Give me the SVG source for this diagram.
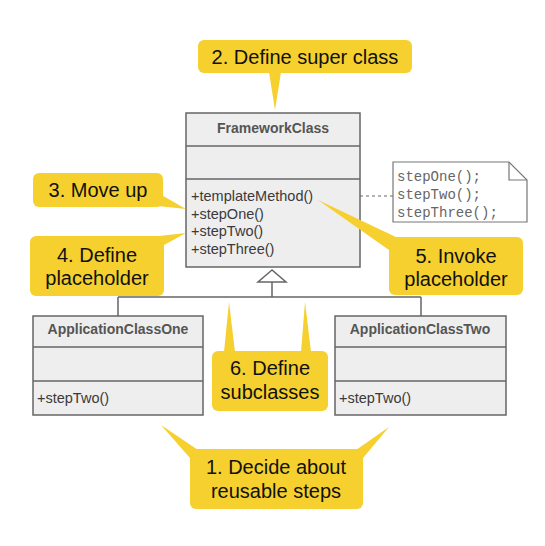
<svg xmlns="http://www.w3.org/2000/svg" width="545" height="546" viewBox="0 0 545 546">
<style>
.cls{fill:#eeeeee;stroke:#666;stroke-width:1.5}
.sep{stroke:#666;stroke-width:1.5}
.title{font-family:"Liberation Sans",Arial,sans-serif;font-weight:bold;font-size:14px;fill:#555;text-anchor:middle}
.meth{font-family:"Liberation Sans",Arial,sans-serif;font-size:14.5px;fill:#3a3a3a}
.note{font-family:"Liberation Mono","Courier New",monospace;font-size:14px;fill:#666}
.call{fill:#f5d02e}
.ct{font-family:"Liberation Sans",Arial,sans-serif;font-size:20px;fill:#111;text-anchor:middle}
.conn{stroke:#666;stroke-width:1.5;fill:none}
</style>
<rect width="545" height="546" fill="#ffffff"/>
<g id="connectors">
<polygon points="272,270 258,282 286,282" fill="#ffffff" stroke="#666" stroke-width="1.5"/>
<path class="conn" d="M272,282 V297 M118,297 H421 M118,297 V316 M421,297 V316"/>
<path d="M360,196 H393" stroke="#666" stroke-width="1.2" stroke-dasharray="3,3" fill="none"/>
</g>
<g id="FrameworkClass">
<rect class="cls" x="186" y="113" width="174" height="154"/>
<line class="sep" x1="186" y1="146" x2="360" y2="146"/>
<line class="sep" x1="186" y1="179" x2="360" y2="179"/>
<text class="title" x="273" y="133">FrameworkClass</text>
<text class="meth" x="191" y="201">+templateMethod()</text>
<text class="meth" x="191" y="219">+stepOne()</text>
<text class="meth" x="191" y="236">+stepTwo()</text>
<text class="meth" x="191" y="254">+stepThree()</text>
</g>
<g id="note">
<path d="M393,162 H509 L527,180 V222 H393 Z" fill="#ffffff" stroke="#777" stroke-width="1.2"/>
<path d="M509,162 V180 H527" fill="none" stroke="#777" stroke-width="1.2"/>
<text class="note" x="397" y="181">stepOne();</text>
<text class="note" x="397" y="199">stepTwo();</text>
<text class="note" x="397" y="217">stepThree();</text>
</g>
<g id="ApplicationClassOne">
<rect class="cls" x="33" y="316" width="170" height="99"/>
<line class="sep" x1="33" y1="347" x2="203" y2="347"/>
<line class="sep" x1="33" y1="381" x2="203" y2="381"/>
<text class="title" x="118" y="334">ApplicationClassOne</text>
<text class="meth" x="37" y="403">+stepTwo()</text>
</g>
<g id="ApplicationClassTwo">
<rect class="cls" x="335" y="316" width="171" height="99"/>
<line class="sep" x1="335" y1="347" x2="506" y2="347"/>
<line class="sep" x1="335" y1="381" x2="506" y2="381"/>
<text class="title" x="420" y="334">ApplicationClassTwo</text>
<text class="meth" x="339" y="403">+stepTwo()</text>
</g>
<g id="callout2">
<rect class="call" x="198" y="40" width="214" height="33" rx="6"/>
<polygon class="call" points="269,72 281,72 275,110"/>
<text class="ct" x="305" y="64">2. Define super class</text>
</g>
<g id="callout3">
<rect class="call" x="33" y="173" width="130" height="34" rx="6"/>
<polygon class="call" points="158,193 186,209 158,206"/>
<text class="ct" x="98" y="197">3. Move up</text>
</g>
<g id="callout4">
<rect class="call" x="30" y="236" width="134" height="60" rx="6"/>
<polygon class="call" points="150,237 186,233 164,245"/>
<text class="ct" x="97" y="262">4. Define</text>
<text class="ct" x="97" y="285">placeholder</text>
</g>
<g id="callout5">
<rect class="call" x="389" y="237" width="134" height="58" rx="6"/>
<polygon class="call" points="318,200 398,238 389,250"/>
<text class="ct" x="456" y="263">5. Invoke</text>
<text class="ct" x="456" y="286">placeholder</text>
</g>
<g id="callout6">
<rect class="call" x="212" y="351" width="116" height="60" rx="6"/>
<polygon class="call" points="224,352 229,302 235,352"/>
<polygon class="call" points="301,352 305,302 311,352"/>
<text class="ct" x="270" y="375">6. Define</text>
<text class="ct" x="270" y="399">subclasses</text>
</g>
<g id="callout1">
<rect class="call" x="190" y="449" width="173" height="60" rx="6"/>
<polygon class="call" points="161,425 198,450 190,458"/>
<polygon class="call" points="389,427 356,450 363,458"/>
<text class="ct" x="276" y="474">1. Decide about</text>
<text class="ct" x="276" y="498">reusable steps</text>
</g>
</svg>
